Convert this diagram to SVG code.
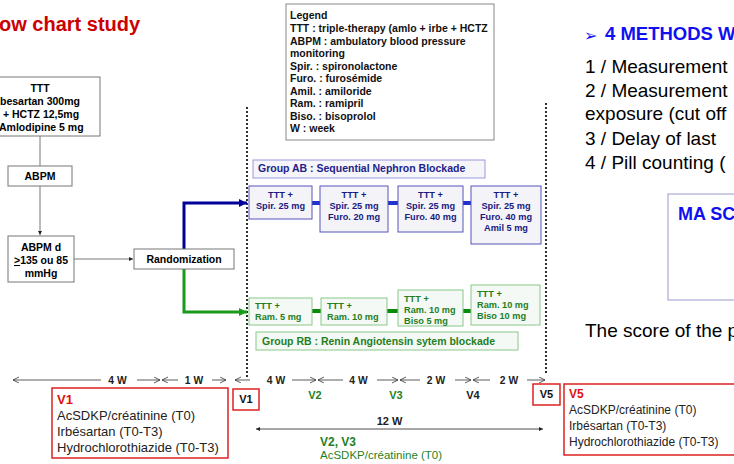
<svg xmlns="http://www.w3.org/2000/svg" width="734" height="464" viewBox="0 0 734 464">
<style>
text{font-family:"Liberation Sans",Arial,sans-serif}
.b{font-weight:bold}
.box{fill:#fff;stroke:#777;stroke-width:1}
.ab{fill:#f4f4f8;stroke:#5555bb;stroke-width:1}
.abl{fill:#f5f5fa;stroke:#9999dd;stroke-width:1}
.rb{fill:#f5f9f5;stroke:#88c888;stroke-width:1}
.red{fill:#fff;stroke:#dd2222;stroke-width:1.5}
.abt{font-weight:bold;font-size:9.2px;fill:#1a1a80;text-anchor:middle}
.rbt{font-weight:bold;font-size:9.2px;fill:#1f7f1f}
.lt{font-weight:bold;font-size:10.5px;fill:#000;text-anchor:middle}
.tl{stroke:#333;stroke-width:0.8;fill:none;marker-end:url(#open)}
.tw{font-weight:bold;font-size:10.3px;fill:#222;text-anchor:middle}
.dot{stroke:#000;stroke-width:2.2;stroke-linecap:round;stroke-dasharray:0 4;fill:none}
.rt{font-size:19px;fill:#000}
</style>
<defs>
<marker id="open" markerUnits="userSpaceOnUse" markerWidth="8" markerHeight="8" refX="6" refY="3" orient="auto"><path d="M0,0 L6,3 L0,6" fill="none" stroke="#333" stroke-width="0.8"/></marker>
<marker id="tiny" markerUnits="userSpaceOnUse" markerWidth="6" markerHeight="6" refX="4" refY="2" orient="auto-start-reverse"><path d="M0,0 L4,2 L0,4 z" fill="#222"/></marker>
<marker id="bh" markerUnits="userSpaceOnUse" markerWidth="10" markerHeight="10" refX="8" refY="4" orient="auto"><path d="M0,0 L8,4 L0,8 z" fill="#000099"/></marker>
<marker id="gh" markerUnits="userSpaceOnUse" markerWidth="10" markerHeight="10" refX="8" refY="4" orient="auto"><path d="M0,0 L8,4 L0,8 z" fill="#1a9a1a"/></marker>
</defs>

<text x="-1" y="31" class="b" font-size="20" fill="#cc0000">ow chart study</text>

<g id="dividers">
<line class="dot" x1="247" y1="108" x2="247" y2="377"/>
<line class="dot" x1="546" y1="104" x2="546" y2="376"/>
</g>

<g id="connectors">
<line x1="40" y1="136" x2="40" y2="166" stroke="#555" stroke-width="0.8"/>
<line x1="40" y1="186" x2="40" y2="235" stroke="#555" stroke-width="0.8" marker-end="url(#tiny)"/>
<line x1="74" y1="259" x2="133" y2="259" stroke="#555" stroke-width="0.8" marker-end="url(#tiny)"/>
<path d="M184,249 V203 H247" fill="none" stroke="#000099" stroke-width="3" marker-end="url(#bh)"/>
<path d="M184,269 V312 H247" fill="none" stroke="#1a9a1a" stroke-width="3" marker-end="url(#gh)"/>
<g stroke="#2233cc" stroke-width="4">
<line x1="312" y1="203" x2="320" y2="203"/>
<line x1="388" y1="203" x2="398" y2="203"/>
<line x1="463" y1="203" x2="471" y2="203"/>
</g>
<g stroke="#0a8a0a" stroke-width="4">
<line x1="312" y1="311" x2="321" y2="311"/>
<line x1="387" y1="311" x2="398" y2="311"/>
<line x1="463" y1="311" x2="471" y2="311"/>
</g>
<line class="tl" x1="101" y1="380" x2="13" y2="380"/>
<line class="tl" x1="137" y1="380" x2="160" y2="380"/>
<line class="tl" x1="178" y1="380" x2="162" y2="380"/>
<line class="tl" x1="212" y1="380" x2="226" y2="380"/>
<line class="tl" x1="250" y1="380" x2="235" y2="380"/>
<line class="tl" x1="292" y1="380" x2="316" y2="380"/>
<line class="tl" x1="343" y1="380" x2="318" y2="380" stroke="#888"/>
<line class="tl" x1="377" y1="380" x2="398" y2="380"/>
<line class="tl" x1="420" y1="380" x2="400" y2="380"/>
<line class="tl" x1="455" y1="380" x2="471" y2="380"/>
<line class="tl" x1="490" y1="380" x2="473" y2="380"/>
<line class="tl" x1="527" y1="380" x2="545" y2="380"/>
<line x1="256" y1="429" x2="543" y2="429" stroke="#222" stroke-width="0.8" marker-start="url(#tiny)" marker-end="url(#tiny)"/>
</g>

<g id="ttt">
<rect class="box" x="-22" y="77" width="122" height="59"/>
<text class="lt" x="40" y="92">TTT</text>
<text class="b" font-size="10.5" x="0" y="105">besartan 300mg</text>
<text class="lt" x="41" y="118">+ HCTZ 12,5mg</text>
<text class="b" font-size="10.5" x="-1" y="131">Amlodipine 5 mg</text>
</g>
<g id="abpm">
<rect class="box" x="8" y="166" width="64" height="20"/>
<text class="lt" x="40" y="180">ABPM</text>
</g>
<g id="abpmd">
<rect class="box" x="8" y="236" width="66" height="46"/>
<text class="lt" x="41" y="251">ABPM d</text>
<text class="lt" x="41" y="264"><tspan text-decoration="underline">&gt;</tspan>135 ou 85</text>
<text class="lt" x="41" y="277">mmHg</text>
</g>
<g id="randomization">
<rect class="box" x="134" y="249" width="100" height="20"/>
<text class="lt" x="184" y="263">Randomization</text>
</g>

<g id="legend">
<rect x="286" y="4" width="208" height="136" fill="#fff" stroke="#888" stroke-width="1"/>
<g class="b" font-size="10.5" fill="#111">
<text x="290" y="19">Legend</text>
<text x="290" y="32">TTT : triple-therapy (amlo + irbe + HCTZ</text>
<text x="290" y="45">ABPM : ambulatory blood pressure</text>
<text x="290" y="57">monitoring</text>
<text x="290" y="70">Spir. : spironolactone</text>
<text x="290" y="82">Furo. : furosémide</text>
<text x="290" y="95">Amil. : amiloride</text>
<text x="290" y="107">Ram. : ramipril</text>
<text x="290" y="120">Biso. : bisoprolol</text>
<text x="290" y="132">W : week</text>
</g>
</g>

<g id="groupAB">
<rect class="abl" x="253" y="160" width="232" height="18"/>
<text class="b" x="258" y="172" font-size="10.5" fill="#22228a">Group AB : Sequential Nephron Blockade</text>
</g>
<g id="ab1"><rect class="ab" x="249" y="186" width="63" height="33"/>
<text class="abt" x="280.5" y="198">TTT +</text><text class="abt" x="280.5" y="209">Spir. 25 mg</text></g>
<g id="ab2"><rect class="ab" x="320" y="186" width="68" height="46"/>
<text class="abt" x="354" y="198">TTT +</text><text class="abt" x="354" y="209">Spir. 25 mg</text><text class="abt" x="354" y="220">Furo. 20 mg</text></g>
<g id="ab3"><rect class="ab" x="398" y="186" width="65" height="46"/>
<text class="abt" x="430.5" y="198">TTT +</text><text class="abt" x="430.5" y="209">Spir. 25 mg</text><text class="abt" x="430.5" y="220">Furo. 40 mg</text></g>
<g id="ab4"><rect class="ab" x="471" y="186" width="70" height="58"/>
<text class="abt" x="506" y="198">TTT +</text><text class="abt" x="506" y="209">Spir. 25 mg</text><text class="abt" x="506" y="220">Furo. 40 mg</text><text class="abt" x="506" y="231">Amil 5 mg</text></g>

<g id="rb1"><rect class="rb" x="249" y="298" width="63" height="27"/>
<text class="rbt" x="255" y="309">TTT +</text><text class="rbt" x="255" y="320">Ram. 5 mg</text></g>
<g id="rb2"><rect class="rb" x="321" y="298" width="66" height="27"/>
<text class="rbt" x="327" y="309">TTT +</text><text class="rbt" x="327" y="320">Ram. 10 mg</text></g>
<g id="rb3"><rect class="rb" x="398" y="290" width="65" height="36"/>
<text class="rbt" x="404" y="301.5">TTT +</text><text class="rbt" x="404" y="313">Ram. 10 mg</text><text class="rbt" x="404" y="324">Biso 5 mg</text></g>
<g id="rb4"><rect class="rb" x="471" y="285" width="69" height="40"/>
<text class="rbt" x="477" y="297">TTT +</text><text class="rbt" x="477" y="308">Ram. 10 mg</text><text class="rbt" x="477" y="319">Biso 10 mg</text></g>
<g id="groupRB">
<rect class="rb" x="256" y="332" width="262" height="18"/>
<text class="b" x="262" y="345" font-size="10.5" fill="#1f7f1f">Group RB : Renin Angiotensin sytem blockade</text>
</g>

<g id="timeline-labels">
<text class="tw" x="117.5" y="384">4 W</text>
<text class="tw" x="194" y="384">1 W</text>
<text class="tw" x="276" y="384">4 W</text>
<text class="tw" x="358.5" y="384">4 W</text>
<text class="tw" x="436" y="384">2 W</text>
<text class="tw" x="509" y="384">2 W</text>
<text class="b" x="315" y="399" font-size="11" fill="#1f7f1f" text-anchor="middle">V2</text>
<text class="b" x="396" y="399" font-size="11" fill="#1f7f1f" text-anchor="middle">V3</text>
<text class="b" x="473" y="399" font-size="11" fill="#222" text-anchor="middle">V4</text>
<text class="b" x="389.5" y="425" font-size="11" fill="#222" text-anchor="middle">12 W</text>
</g>

<g id="v1box">
<rect class="red" x="52" y="388" width="176" height="70"/>
<text class="b" x="57" y="404" font-size="13" fill="#dd1111">V1</text>
<g font-size="13" fill="#222">
<text x="57" y="420">AcSDKP/créatinine (T0)</text>
<text x="57" y="436">Irbésartan (T0-T3)</text>
<text x="57" y="452">Hydrochlorothiazide (T0-T3)</text>
</g>
</g>
<g id="v1">
<rect class="red" x="233" y="389" width="26" height="21"/>
<text class="b" x="246" y="403" font-size="11" text-anchor="middle" fill="#111">V1</text>
</g>
<g id="v5">
<rect class="red" x="533" y="384" width="27" height="21"/>
<text class="b" x="546.5" y="398" font-size="11" text-anchor="middle" fill="#111">V5</text>
</g>
<g id="v5box">
<rect class="red" x="564" y="384" width="180" height="71"/>
<text class="b" x="569" y="398" font-size="12" fill="#dd1111">V5</text>
<g font-size="12" fill="#222">
<text x="569" y="414">AcSDKP/créatinine (T0)</text>
<text x="569" y="430">Irbésartan (T0-T3)</text>
<text x="569" y="446">Hydrochlorothiazide (T0-T3)</text>
</g>
</g>
<g id="v23">
<text class="b" x="320" y="446" font-size="12" fill="#1f7f1f">V2, V3</text>
<text x="320" y="459" font-size="11.5" fill="#1f7f1f">AcSDKP/créatinine (T0)</text>
</g>

<g id="methods">
<text x="584" y="41" font-size="16" fill="#1010f0" style="font-family:'DejaVu Sans',sans-serif">➢</text>
<text class="b" x="605" y="40" font-size="18.5" fill="#1010f0">4 METHODS W</text>
<text class="rt" x="585" y="73">1 / Measurement</text>
<text class="rt" x="585" y="97">2 / Measurement</text>
<text class="rt" x="585" y="120">exposure (cut off</text>
<text class="rt" x="585" y="145">3 / Delay of last</text>
<text class="rt" x="585" y="169">4 / Pill counting (</text>
</g>
<g id="mascore">
<rect x="668" y="194" width="80" height="106" fill="#fff" stroke="#9999cc" stroke-width="1"/>
<text class="b" x="678" y="220" font-size="18" fill="#1010f0">MA SC</text>
</g>
<text class="rt" x="585" y="337" font-size="17.5">The score of the p</text>
</svg>
